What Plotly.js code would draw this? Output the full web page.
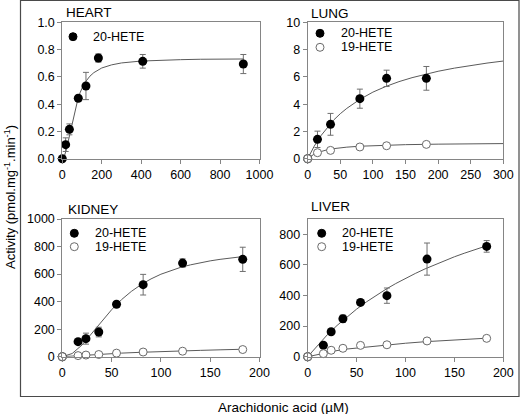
<!DOCTYPE html>
<html>
<head>
<meta charset="utf-8">
<script src="https://cdn.plot.ly/plotly-3.0.1.min.js"></script>
<style>html,body{margin:0;padding:0;background:#fff;}#chart{width:520px;height:414px;}</style>
</head>
<body>
<div id="chart"></div>
<script>
// ---------- DATA ----------
// HEART
const heartX      = [0, 17, 36, 81, 120, 183, 408, 918];
const heart20     = [0, 0.103, 0.215, 0.443, 0.533, 0.738, 0.714, 0.694];
const heart20Err  = [0, 0.05, 0.04, 0.02, 0.10, 0.03, 0.05, 0.07];
const heartFitX   = [0,10,20,30,40,50,60,70,80,90,100,120,140,160,180,200,250,300,400,500,600,700,800,920];
const heartFitY   = [0,0.017,0.064,0.129,0.202,0.273,0.338,0.395,0.443,0.483,0.517,0.568,0.605,0.631,0.650,0.665,0.688,0.702,0.716,0.723,0.726,0.729,0.730,0.731];

// LUNG
const lungX       = [0, 15, 35, 80, 121, 182];
const lung20      = [0, 1.42, 2.52, 4.40, 5.89, 5.89];
const lung20Err   = [0, 0.6, 0.8, 0.7, 0.6, 0.87];
const lung19      = [0, 0.44, 0.61, 0.86, 0.95, 1.05];
const lung19Err   = [0, 0.05, 0.05, 0.05, 0.05, 0.05];
const lungFitX    = [0,10,20,30,40,50,60,80,100,120,140,160,180,200,225,250,275,300];
const lungFit20   = [0,0.92,1.67,2.30,2.84,3.30,3.69,4.35,4.88,5.30,5.65,5.94,6.19,6.41,6.64,6.84,7.01,7.16];
const lungFit19X  = [0,5,10,15,20,30,40,50,60,80,100,125,150,200,250,300];
const lungFit19   = [0,0.20,0.343,0.45,0.533,0.655,0.738,0.80,0.847,0.914,0.96,1.0,1.029,1.067,1.091,1.108];

// KIDNEY
const kidX        = [0, 16, 24, 37, 55, 82, 122, 183];
const kid20       = [0, 109, 131, 179, 381, 523, 680, 707];
const kid20Err    = [0, 10, 40, 35, 20, 75, 30, 88];
const kid19       = [0, 8, 12, 16, 26, 34, 40, 52];
const kid19Err    = [0, 3, 3, 3, 4, 4, 5, 5];
const kidFitX     = [0,10,20,30,40,50,60,70,80,90,100,110,120,130,140,150,160,170,183];
const kidFit20    = [0,23,85,169,258,341,414,474,524,565,599,626,649,667,683,696,707,717,727];
const kidFit19X   = [0,20,40,60,80,100,120,140,160,183];
const kidFit19    = [0,10,18,26,32,38,42,46,50,54];

// LIVER
const livX        = [0, 16, 24, 36, 54, 81, 122, 183];
const liv20       = [0, 75, 163, 248, 355, 399, 638, 721];
const liv20Err    = [0, 12, 15, 24, 15, 50, 105, 38];
const liv19       = [0, 20, 42, 55, 74, 78, 103, 120];
const liv19Err    = [0, 4, 4, 4, 5, 5, 12, 6];
const livFitX     = [0,10,20,30,40,50,60,70,80,90,100,110,120,130,140,150,160,170,183];
const livFit20    = [0,75,143,204,260,311,358,401,441,478,512,544,574,602,628,653,676,698,725];
const livFit19X   = [0,10,20,30,40,60,80,100,120,150,183];
const livFit19    = [0,15,28,40,50,64,77,88,98,110,121];

const panelTitles = ["HEART", "LUNG", "KIDNEY", "LIVER"];
const seriesNames = ["20-HETE", "19-HETE"];
const xTitle = "Arachidonic acid (\u00b5M)";
const yTitle = "Activity (pmol.mg<sup>-1</sup>.min<sup>-1</sup>)";

// ---------- STYLE ----------
const W = 520, H = 414;
const FONT = "Liberation Sans, Arial, sans-serif";
const lineCol = "#5a5a5a";
const errCol = "#6e6e6e";
const openCol = "#6a6a6a";
const axCol = "#858585";

function fit(x, y, xa, ya) {
  return {x: x, y: y, xaxis: xa, yaxis: ya, mode: "lines", type: "scatter",
    line: {color: lineCol, width: 1}, hoverinfo: "skip", showlegend: false};
}
function filled(x, y, e, xa, ya) {
  return {x: x, y: y, xaxis: xa, yaxis: ya, mode: "markers", type: "scatter",
    name: seriesNames[0], showlegend: false, cliponaxis: false,
    marker: {color: "#000", size: 9, line: {width: 0}},
    error_y: {type: "data", array: e, visible: true, color: errCol, thickness: 1, width: 3}};
}
function open(x, y, e, xa, ya) {
  return {x: x, y: y, xaxis: xa, yaxis: ya, mode: "markers", type: "scatter",
    name: seriesNames[1], showlegend: false, cliponaxis: false,
    marker: {color: "#fff", size: 8, line: {color: openCol, width: 1}},
    error_y: {type: "data", array: e, visible: true, color: errCol, thickness: 1, width: 3}};
}

const data = [
  fit(heartFitX, heartFitY, "x", "y"),
  filled(heartX, heart20, heart20Err, "x", "y"),
  fit(lungFitX, lungFit20, "x2", "y2"),
  fit(lungFit19X, lungFit19, "x2", "y2"),
  filled(lungX, lung20, lung20Err, "x2", "y2"),
  open(lungX, lung19, lung19Err, "x2", "y2"),
  fit(kidFitX, kidFit20, "x3", "y3"),
  fit(kidFit19X, kidFit19, "x3", "y3"),
  filled(kidX, kid20, kid20Err, "x3", "y3"),
  open(kidX, kid19, kid19Err, "x3", "y3"),
  fit(livFitX, livFit20, "x4", "y4"),
  fit(livFit19X, livFit19, "x4", "y4"),
  filled(livX, liv20, liv20Err, "x4", "y4"),
  open(livX, liv19, liv19Err, "x4", "y4")
];

// pixel -> paper helpers
const px = v => v / W;
const py = v => 1 - v / H;

function xax(dom, range, dtick, anchor) {
  return {domain: dom, range: range, dtick: dtick, tick0: 0, anchor: anchor,
    showgrid: false, zeroline: false, showline: true, mirror: true,
    linecolor: axCol, linewidth: 1, ticks: "outside", ticklen: 4, tickcolor: axCol,
    tickfont: {family: FONT, size: 12.5, color: "#000"}, fixedrange: true};
}
function yax(dom, range, dtick, anchor, fmt) {
  const a = xax(dom, range, dtick, anchor);
  if (fmt) a.tickformat = fmt;
  return a;
}

const xTop = [px(62.3), px(259.5)], xRight = [px(307.7), px(503.3)];
const yTop = [py(158.7), py(22.3)], yBot = [py(356.7), py(219)];

const annotations = [];
const shapes = [];
function txt(x, y, t, size, anchor, extra) {
  annotations.push(Object.assign({xref: "paper", yref: "paper", x: px(x), y: py(y), text: t,
    showarrow: false, xanchor: anchor || "left", yanchor: "middle",
    font: {family: FONT, size: size, color: "#000"}}, extra || {}));
}
function dot(cx, cy, fillc, linec) {
  const r = 4;
  shapes.push({type: "circle", xref: "paper", yref: "paper",
    x0: px(cx - r), x1: px(cx + r), y0: py(cy + r), y1: py(cy - r),
    fillcolor: fillc, line: {color: linec, width: 1}});
}

// panel titles
txt(64, 12.5, panelTitles[0], 13.5);
txt(308.5, 13, panelTitles[1], 13.5);
txt(65.5, 209, panelTitles[2], 13.5);
txt(309, 206.5, panelTitles[3], 13.5);

// legends
dot(73, 36.7, "#000", "#000");      txt(91, 36.7, seriesNames[0], 12.5);
dot(320, 33.3, "#000", "#000");     txt(338.5, 33.3, seriesNames[0], 12.5);
dot(320, 47.3, "#fff", openCol);    txt(338.5, 47.3, seriesNames[1], 12.5);
dot(74.3, 233.3, "#000", "#000");   txt(92.5, 233.3, seriesNames[0], 12.5);
dot(74.3, 246.7, "#fff", openCol);  txt(92.5, 246.7, seriesNames[1], 12.5);
dot(321.7, 233.3, "#000", "#000");  txt(340, 233.3, seriesNames[0], 12.5);
dot(321.7, 246.7, "#fff", openCol); txt(340, 246.7, seriesNames[1], 12.5);

// axis titles
txt(283, 407, xTitle, 13.5, "center");
txt(10, 197, yTitle, 13, "center", {textangle: -90});

// outer frame
shapes.push({type: "rect", xref: "paper", yref: "paper",
  x0: px(20.5), x1: px(519), y0: py(396.5), y1: py(0.5),
  line: {color: "#4a4a4a", width: 1.2}, fillcolor: "rgba(0,0,0,0)"});

const layout = {
  width: W, height: H,
  margin: {l: 0, r: 0, t: 0, b: 0},
  paper_bgcolor: "#fff", plot_bgcolor: "#fff",
  showlegend: false,
  font: {family: FONT, size: 12, color: "#000"},
  xaxis:  xax(xTop, [0, 1000], 200, "y"),
  yaxis:  yax(yTop, [0, 1.0], 0.2, "x", ".1f"),
  xaxis2: xax(xRight, [0, 300], 50, "y2"),
  yaxis2: yax(yTop, [0, 10], 2, "x2"),
  xaxis3: xax(xTop, [0, 200], 50, "y3"),
  yaxis3: yax(yBot, [0, 1000], 200, "x3"),
  xaxis4: xax(xRight, [0, 200], 50, "y4"),
  yaxis4: yax(yBot, [0, 900], 200, "x4"),
  annotations: annotations,
  shapes: shapes
};

Plotly.newPlot("chart", data, layout, {staticPlot: true, displayModeBar: false});
</script>
</body>
</html>
